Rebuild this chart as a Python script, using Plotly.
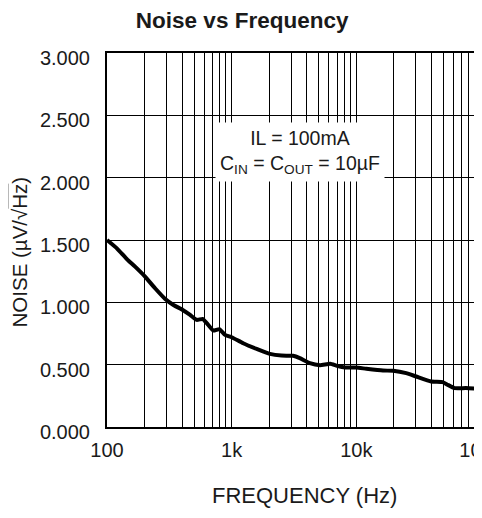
import plotly.graph_objects as go

# Noise curve (frequency in Hz, noise in uV/sqrt(Hz))
freq_hz = [100, 120, 145, 168, 202, 243, 293, 341, 405, 464, 525, 585, 631, 714,
           795, 885, 1000, 1236, 1585, 2026, 2512, 3113, 3520, 4236, 5117, 6166,
           6998, 8087, 10000, 12023, 16350, 19770, 25119, 30200, 39810, 49300,
           54000, 61200, 75800, 100000]
noise = [1.500, 1.433, 1.345, 1.286, 1.206, 1.113, 1.027, 0.979, 0.939, 0.899,
         0.859, 0.867, 0.833, 0.773, 0.785, 0.739, 0.720, 0.672, 0.627, 0.587,
         0.573, 0.571, 0.552, 0.512, 0.496, 0.507, 0.491, 0.477, 0.477, 0.467,
         0.453, 0.451, 0.432, 0.405, 0.365, 0.360, 0.339, 0.312, 0.312, 0.304]

x_major = [100, 1000, 10000, 100000]
x_labels = ["100", "1k", "10k", "100k"]
x_minor = [m * d for d in (100, 1000, 10000) for m in range(2, 10)]
y_ticks = [0.0, 0.5, 1.0, 1.5, 2.0, 2.5, 3.0]

FONT = "Liberation Sans, Arial, Helvetica, sans-serif"
TXT = "#1a1a1a"

fig = go.Figure()
fig.add_trace(go.Scatter(x=freq_hz, y=noise, mode="lines",
                         line=dict(color="black", width=4, shape="spline", smoothing=0.4),
                         hoverinfo="skip", showlegend=False))

# the page body adds an 8px margin, so the figure is sized to fit the window
fig.update_layout(
    width=474, height=502,
    margin=dict(l=99, r=1, t=45, b=83, autoexpand=False),
    paper_bgcolor="white", plot_bgcolor="white",
    font=dict(family=FONT, color=TXT),
    title=dict(text="<b>Noise vs Frequency</b>", xref="container", yref="container",
               x=0.494, y=0.975, xanchor="center", yanchor="middle",
               font=dict(size=22.5, family=FONT, color=TXT)),
    xaxis=dict(type="log", range=[2, 5], automargin=False,
               tickmode="array", tickvals=x_major, ticktext=x_labels,
               ticklabeloverflow="allow",
               showgrid=True, gridcolor="black", gridwidth=1.3,
               minor=dict(tickmode="array", tickvals=x_minor, showgrid=True,
                          gridcolor="black", gridwidth=1.3),
               showline=True, linecolor="black", linewidth=2, mirror=True,
               ticks="", ticklabelstandoff=4, zeroline=False,
               tickfont=dict(size=20, family=FONT, color=TXT)),
    yaxis=dict(range=[0, 3], automargin=False, tickmode="array", tickvals=y_ticks,
               tickformat=".3f",
               showgrid=True, gridcolor="black", gridwidth=1.3,
               showline=True, linecolor="black", linewidth=2, mirror=True,
               ticks="", ticklabelstandoff=11, ticklabelshift=5, zeroline=False,
               tickfont=dict(size=20, family=FONT, color=TXT)),
)

fig.add_annotation(xref="paper", yref="paper", x=0.517, y=0.734,
                   xanchor="center", yanchor="middle", showarrow=False,
                   text="IL = 100mA<br>C<sub>IN</sub> = C<sub>OUT</sub> = 10µF",
                   font=dict(size=19.5, family=FONT, color=TXT),
                   bgcolor="white", borderpad=4, align="center")

fig.add_annotation(xref="paper", yref="paper", x=0.529, y=-0.182,
                   xanchor="center", yanchor="middle", showarrow=False,
                   text="FREQUENCY (Hz)",
                   font=dict(size=22, family=FONT, color=TXT))

fig.add_annotation(xref="paper", yref="paper", x=-0.233, y=0.469,
                   xanchor="center", yanchor="middle", showarrow=False, textangle=-90,
                   text="NOISE (µV/√<span style='text-decoration:overline'>Hz</span>)",
                   font=dict(size=20.5, family=FONT, color=TXT))

fig.write_html("out.html")
